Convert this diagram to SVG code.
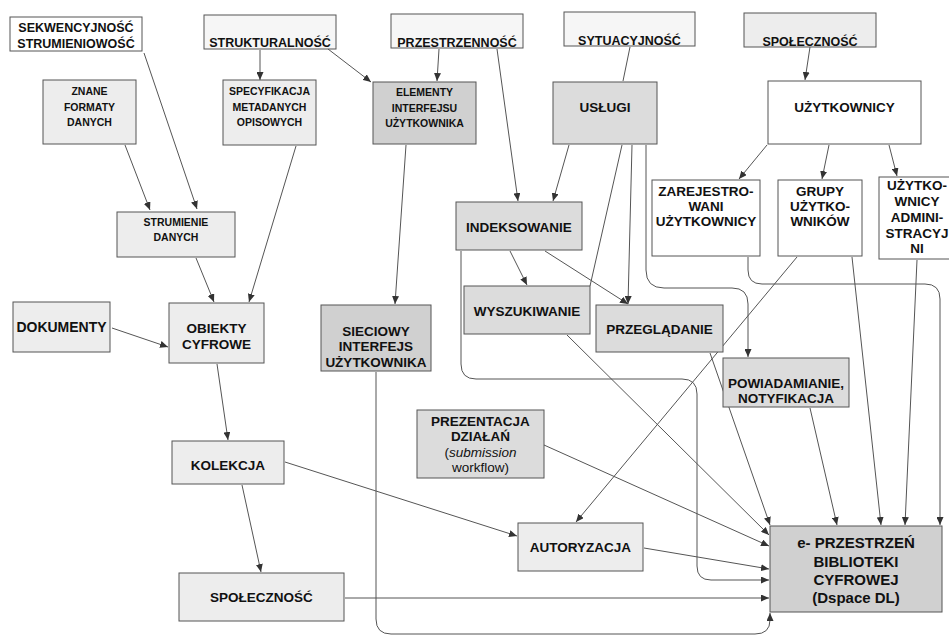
<svg xmlns="http://www.w3.org/2000/svg" width="949" height="637" viewBox="0 0 949 637">
<defs>
<marker id="ah" markerUnits="userSpaceOnUse" markerWidth="8" markerHeight="7" refX="8" refY="3.5" orient="auto">
<path d="M0,0 L8,3.5 L0,7 z" fill="#333"/>
</marker>
</defs>
<style>
.b{stroke:#555;stroke-width:1}
.w{fill:#ffffff}
.t{fill:#f6f6f6}
.l{fill:#ededed}
.m{fill:#dcdcdc}
.d{fill:#d0d0d0}
text{font-family:"Liberation Sans",Arial,sans-serif;font-weight:bold;fill:#111;text-anchor:middle}
.s12{font-size:12.5px}
.s10{font-size:10.5px}
.s13{font-size:13.5px}
.s15{font-size:15px}
.c path{fill:none;stroke:#555;stroke-width:1}
.a{marker-end:url(#ah)}
</style>
<rect width="949" height="637" fill="#ffffff"/>

<g class="c" id="connectors">
<path class="a" d="M144,53 L197,209"/>
<path class="a" d="M125,145 L150,210"/>
<path class="a" d="M260,50 L260,80"/>
<path class="a" d="M328,49 L371,82"/>
<path class="a" d="M296,146 L249,302"/>
<path class="a" d="M196,258 L214,302"/>
<path class="a" d="M112,328 L168,347"/>
<path class="a" d="M217,364 L228,440"/>
<path class="a" d="M242,485 L261,572"/>
<path class="a" d="M285,462 L517,536"/>
<path class="a" d="M439,49 L437,81"/>
<path class="a" d="M497,49 L518,201"/>
<path d="M630,47 L623,81"/>
<path class="a" d="M569,145 L553,201"/>
<path d="M622,145 L590,286"/>
<path class="a" d="M632,145 L628,304"/>
<path class="a" d="M646,145 V270 Q646,288 664,288 H732 Q748,288 748,304 V357"/>
<path class="a" d="M406,145 L395,304"/>
<path class="a" d="M510,251 L527,285"/>
<path class="a" d="M545,251 L628,304"/>
<path class="a" d="M461,251 V364 Q461,379 476,379 H682 Q697,379 697,394 V566 Q697,580 711,580 H769"/>
<path class="a" d="M810,47 L805,80"/>
<path class="a" d="M767,145 L739,179"/>
<path class="a" d="M829,145 L822,179"/>
<path class="a" d="M889,145 L897,176"/>
<path class="a" d="M748,257 V270 Q748,284 762,284 H925 Q940,284 940,299 V525"/>
<path class="a" d="M797,257 L576,522"/>
<path class="a" d="M852,257 L881,525"/>
<path class="a" d="M917,260 L905,525"/>
<path class="a" d="M810,408 L837,525"/>
<path class="a" d="M710,353 L770,525"/>
<path class="a" d="M567,335 L769,535"/>
<path class="a" d="M544,445 L769,546"/>
<path class="a" d="M644,548 L769,569"/>
<path class="a" d="M345,598 L769,598"/>
<path class="a" d="M376,372 V619 Q376,634 391,634 H755 Q770,634 770,620 V613"/>
</g>

<g id="sekwencyjnosc"><rect class="w b" x="10" y="17" width="132" height="34"/><text class="s12" x="76" y="31.5">SEKWENCYJNOŚĆ</text><text class="s12" x="76" y="48">STRUMIENIOWOŚĆ</text></g>
<g id="strukturalnosc"><rect class="t b" x="204" y="15" width="132" height="34"/><text class="s12" x="270" y="47">STRUKTURALNOŚĆ</text></g>
<g id="przestrzennosc"><rect class="t b" x="391" y="14" width="132" height="34"/><text class="s12" x="457" y="47">PRZESTRZENNOŚĆ</text></g>
<g id="sytuacyjnosc"><rect class="t b" x="564" y="12" width="131" height="34"/><text class="s12" x="629.5" y="44.5">SYTUACYJNOŚĆ</text></g>
<g id="spolecznosc-top"><rect class="l b" x="744" y="13" width="132" height="34"/><text class="s12" x="810" y="45.5">SPOŁECZNOŚĆ</text></g>

<g id="znane-formaty"><rect class="l b" x="43" y="80" width="93" height="64"/><text class="s10" x="89.5" y="95">ZNANE</text><text class="s10" x="89.5" y="111">FORMATY</text><text class="s10" x="89.5" y="126">DANYCH</text></g>
<g id="specyfikacja"><rect class="l b" x="223" y="80" width="93" height="65"/><text class="s10" x="269.5" y="95">SPECYFIKACJA</text><text class="s10" x="269.5" y="111">METADANYCH</text><text class="s10" x="269.5" y="126">OPISOWYCH</text></g>
<g id="elementy"><rect class="d b" x="373" y="82" width="103" height="62"/><text class="s10" x="424.5" y="96">ELEMENTY</text><text class="s10" x="424.5" y="112">INTERFEJSU</text><text class="s10" x="424.5" y="127">UŻYTKOWNIKA</text></g>
<g id="uslugi"><rect class="m b" x="553" y="82" width="104" height="62"/><text class="s13" x="605" y="112">USŁUGI</text></g>
<g id="uzytkownicy"><rect class="w b" x="768" y="81" width="153" height="63"/><text class="s13" x="844.5" y="112">UŻYTKOWNICY</text></g>

<g id="strumienie"><rect class="l b" x="117" y="212" width="118" height="45"/><text class="s10" x="176" y="226">STRUMIENIE</text><text class="s10" x="176" y="241">DANYCH</text></g>
<g id="indeksowanie"><rect class="m b" x="456" y="202" width="126" height="48"/><text class="s13" x="519" y="232">INDEKSOWANIE</text></g>
<g id="zarejestrowani"><rect class="w b" x="652" y="180" width="108" height="76"/><text class="s13" x="706" y="196">ZAREJESTRO-</text><text class="s13" x="706" y="211">WANI</text><text class="s13" x="706" y="226">UŻYTKOWNICY</text></g>
<g id="grupy"><rect class="w b" x="778" y="180" width="84" height="76"/><text class="s13" x="820" y="196">GRUPY</text><text class="s13" x="820" y="211">UŻYTKO-</text><text class="s13" x="820" y="226">WNIKÓW</text></g>
<g id="administracyjni"><rect class="w b" x="879" y="177" width="76" height="82"/><text class="s13" x="917" y="190">UŻYTKO-</text><text class="s13" x="917" y="206">WNICY</text><text class="s13" x="917" y="222">ADMINI-</text><text class="s13" x="917" y="237.5">STRACYJ</text><text class="s13" x="917" y="253">NI</text></g>

<g id="wyszukiwanie"><rect class="m b" x="464" y="286" width="126" height="48"/><text class="s13" x="527" y="316">WYSZUKIWANIE</text></g>
<g id="przegladanie"><rect class="m b" x="596" y="305" width="127" height="47"/><text class="s13" x="659.5" y="334">PRZEGLĄDANIE</text></g>
<g id="dokumenty"><rect class="l b" x="13" y="302" width="97" height="50"/><text class="s13" x="61.5" y="332" style="font-size:14px">DOKUMENTY</text></g>
<g id="obiekty"><rect class="l b" x="169" y="303" width="95" height="60"/><text class="s13" x="216.5" y="333">OBIEKTY</text><text class="s13" x="216.5" y="349">CYFROWE</text></g>
<g id="sieciowy"><rect class="d b" x="321" y="305" width="110" height="66"/><text class="s13" x="376" y="336">SIECIOWY</text><text class="s13" x="376" y="351">INTERFEJS</text><text class="s13" x="376" y="367">UŻYTKOWNIKA</text></g>
<g id="powiadamianie"><rect class="m b" x="723" y="358" width="126" height="49"/><text class="s13" x="786" y="388">POWIADAMIANIE,</text><text class="s13" x="786" y="403">NOTYFIKACJA</text></g>

<g id="prezentacja"><rect class="m b" x="417" y="410" width="127" height="68"/><text class="s13" x="480.5" y="426">PREZENTACJA</text><text class="s13" x="480.5" y="441">DZIAŁAŃ</text><text class="s13" x="480.5" y="457" style="font-weight:normal">(<tspan style="font-style:italic">submission</tspan></text><text class="s13" x="480.5" y="472" style="font-weight:normal">workflow)</text></g>
<g id="kolekcja"><rect class="l b" x="172" y="441" width="112" height="43"/><text class="s13" x="228" y="470">KOLEKCJA</text></g>
<g id="autoryzacja"><rect class="l b" x="518" y="523" width="125" height="48"/><text class="s13" x="580.5" y="552">AUTORYZACJA</text></g>
<g id="spolecznosc-bottom"><rect class="l b" x="179" y="573" width="165" height="48"/><text class="s13" x="261.5" y="602">SPOŁECZNOŚĆ</text></g>
<g id="e-przestrzen"><rect class="d b" x="770" y="526" width="172" height="86"/><text class="s15" x="856" y="548">e- PRZESTRZEŃ</text><text class="s15" x="856" y="567">BIBLIOTEKI</text><text class="s15" x="856" y="585">CYFROWEJ</text><text class="s15" x="856" y="603">(Dspace DL)</text></g>
</svg>
